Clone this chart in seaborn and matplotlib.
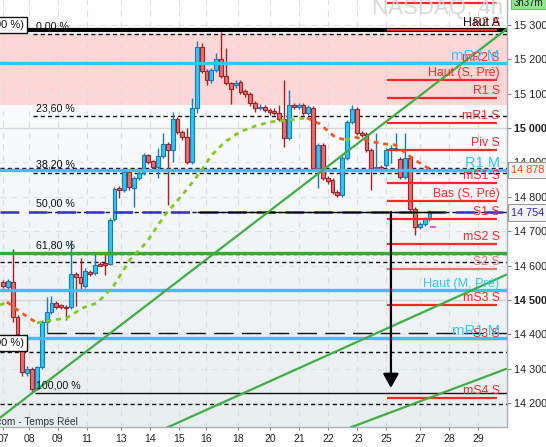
import numpy as np
import matplotlib
matplotlib.use("Agg")
import matplotlib.pyplot as plt
import seaborn as sns
from matplotlib.patches import Rectangle
import matplotlib.transforms as mtransforms

# ---------------- data ----------------
opens = [14552, 14538, 14552, 14450, 14369, 14288, 14299, 14241, 14305, 14436,
         14465, 14491, 14485, 14480, 14480, 14576, 14567, 14541, 14581, 14579,
         14605, 14608, 14605, 14736, 14826, 14820, 14872, 14826, 14855, 14870,
         14922, 14905, 14887, 14919, 14954, 14937, 15027, 14989, 14974, 14902,
         15059, 15236, 15166, 15140, 15169, 15201, 15152, 15132, 15126, 15134,
         15108, 15099, 15073, 15059, 15062, 15053, 15050, 15044, 15027, 14971,
         15067, 15062, 15067, 15044, 15059, 14884, 14951, 14855, 14849, 14814,
         14806, 14913, 15018, 15056, 14986, 14983, 14937, 14884, 14887, 14893,
         14937, 14939, 14910, 14858, 14913, 14765, 14712, 14721, 14736]
highs = [14558, 14561, 14648, 14456, 14375, 14308, 14305, 14308, 14442, 14509,
         14512, 14497, 14488, 14485, 14675, 14581, 14622, 14593, 14587, 14634,
         14611, 14637, 14739, 14829, 14832, 14878, 14878, 14861, 14875, 14928,
         14925, 14907, 14942, 14986, 14960, 15047, 15033, 14995, 15000, 15088,
         15254, 15248, 15172, 15175, 15219, 15280, 15233, 15134, 15140, 15140,
         15114, 15105, 15079, 15070, 15067, 15059, 15059, 15067, 15140, 15111,
         15073, 15073, 15073, 15067, 15065, 14957, 14957, 14861, 14855, 14820,
         14919, 15024, 15067, 15062, 14992, 14989, 14942, 14986, 14893, 14942,
         14951, 14986, 14916, 14986, 14919, 14771, 14727, 14742, 14762]
lows = [14535, 14532, 14436, 14375, 14279, 14279, 14232, 14238, 14299, 14404,
        14459, 14474, 14474, 14442, 14474, 14482, 14529, 14535, 14570, 14573,
        14599, 14573, 14602, 14730, 14797, 14814, 14820, 14771, 14849, 14864,
        14896, 14881, 14855, 14913, 14776, 14902, 14983, 14966, 14896, 14896,
        15044, 15161, 15126, 15132, 15163, 15146, 15126, 15070, 15117, 15099,
        15091, 15065, 15047, 15053, 15047, 15038, 15038, 15021, 14945, 14966,
        15056, 15056, 15038, 15038, 14878, 14826, 14849, 14838, 14808, 14800,
        14800, 14907, 15012, 14980, 14974, 14931, 14820, 14878, 14875, 14887,
        14899, 14934, 14852, 14852, 14759, 14689, 14707, 14715, 14730]
closes = [14541, 14555, 14450, 14401, 14290, 14299, 14241, 14305, 14436, 14465,
          14491, 14480, 14480, 14477, 14576, 14567, 14549, 14584, 14576, 14602,
          14599, 14602, 14733, 14823, 14820, 14872, 14829, 14855, 14870, 14922,
          14902, 14887, 14919, 14954, 14937, 15027, 14989, 14974, 14902, 15059,
          15236, 15166, 15140, 15169, 15201, 15152, 15132, 15114, 15132, 15105,
          15099, 15073, 15059, 15062, 15053, 15047, 15044, 15027, 14971, 15067,
          15062, 15067, 15044, 15062, 14884, 14951, 14855, 14846, 14814, 14806,
          14913, 15018, 15056, 14986, 14980, 14937, 14884, 14887, 14881, 14937,
          14942, 14942, 14858, 14913, 14765, 14712, 14721, 14736, 14754]

ma_x = [-0.6, 0.8, 3.5, 7.0, 10.7, 13.2, 16.5, 19.4, 22.7, 26.2, 29.7, 33.4, 37.5,
        40.6, 43.1, 45.8, 48.9, 52.0, 55.1, 59.2, 62.7, 65.4, 68.5, 70.6, 72.6,
        76.3, 78.8, 80.9, 85.0, 87.7, 88.3]
ma_y = [14485, 14494, 14465, 14433, 14442, 14448, 14477, 14491, 14538, 14617,
        14669, 14747, 14814, 14870, 14922, 14960, 14989, 15006, 15018, 15024,
        15030, 15012, 14974, 14966, 14974, 14960, 14954, 14951, 14907, 14884, 14878]

x_tick_pos = [0, 5.4, 11.3, 17.3, 24.3, 30.3, 36.3, 41.9, 48.5, 55.1, 61.1, 67.1,
              73, 79, 86, 92, 98]
x_tick_labels = ["07", "08", "09", "11", "13", "14", "15", "16", "18", "20", "21",
                 "22", "23", "25", "27", "28", "29"]
y_ticks = [15300, 15200, 15100, 15000, 14900, 14800, 14700, 14600, 14500, 14400,
           14300, 14200]
y_tick_labels = ["15 300", "15 200", "15 100", "15 000", "14 900", "14 800",
                 "14 700", "14 600", "14 500", "14 400", "14 300", "14 200"]

fib_levels = [15274, 15035, 14870, 14756, 14634]
fib_labels = ["0,00 %", "23,60 %", "38,20 %", "50,00 %", "61,80 %"]
fib_100 = 14229
fib_100_label = "100,00 %"
extra_dashed = [14884, 14611, 14349, 14197]
long_dash_level = 14404

s_levels = [15364, 15286, 15189, 15140, 15088, 15015, 14937, 14840, 14788, 14736,
            14663, 14590, 14486, 14387, 14215]
s_labels = ["", "R2 S", "mR2 S", "Haut (S, Pré)", "R1 S", "mR1 S", "Piv S",
            "mS1 S", "Bas (S, Pré)", "S1 S", "mS2 S", "S2 S", "mS3 S", "S3 S", "mS4 S"]

m_levels = [15189, 14878, 14529, 14389]
m_labels = ["mR2 M", "R1 M", "Haut (M, Pré)", "mR1 M"]
m_sizes = [10.8, 10.5, 9.2, 10.7]

haut_a = 15286
green_level = 14637
band = (15067, 15274)
mid_level = 14756
arrow_x = 80.05
arrow_end = 14244
last_price = 14754
ma_last = 14878
magenta_level = 14712

trend_lines = [((-0.62, 14157), (104.0, 15289)),
               ((33.8, 14128), (103.8, 14573)),
               ((71.6, 14128), (103.8, 14299))]

# ---------------- style ----------------
sns.set_style("white")
plt.rcParams['font.family'] = ['Liberation Sans', 'DejaVu Sans']
plt.rcParams['lines.scale_dashes'] = False

W, H = 546, 447
fig = plt.figure(figsize=(W / 100, H / 100), dpi=100)
ax = fig.add_axes([0, 20 / H, 507 / W, 427 / H])
XMIN, XMAX = -0.62, 104.0
YMIN, YMAX = 14130, 15373
PX = (YMAX - YMIN) / 427.0  # price per pixel

# background gradient
grad = np.linspace(0, 1, 256).reshape(-1, 1)
top = np.array([1.0, 1.0, 1.0])
bot = np.array([0xe9, 0xee, 0xf1]) / 255.0
img = top[None, None, :] * (1 - grad[:, :, None]) + bot[None, None, :] * grad[:, :, None]
ax.imshow(img, extent=[0, 1, 0, 1], transform=ax.transAxes, aspect='auto', zorder=0)

ax.axhspan(band[0], band[1], color='#fdd6d6', zorder=0.5, lw=0)

# gridlines
for xp in x_tick_pos:
    ax.axvline(xp, color='#d9dde0', lw=0.8, ls=(0, (4, 4)), zorder=1)
for yv in y_ticks:
    if yv in (15000, 14500):
        ax.axhline(yv, color='#d3d7da', lw=1.0, zorder=1)
    else:
        ax.axhline(yv, color='#e0e3e6', lw=0.8, ls=(0, (4, 4)), zorder=1)

# fib lines
for lv, lb in zip(fib_levels, fib_labels):
    ax.hlines(lv, 6.2, XMAX, color='#111111', lw=1.0, ls=(0, (3, 2.2)), zorder=2)
    ax.text(6.9, lv + 5 * PX, lb, fontsize=7.7, color='#111111', va='baseline', zorder=6)
ax.hlines(fib_100, 6.6, XMAX, color='#111111', lw=1.0, zorder=2)
ax.text(6.9, fib_100 + 4 * PX, fib_100_label, fontsize=7.7, color='#111111',
        va='baseline', zorder=6)
for lv in extra_dashed:
    ax.axhline(lv, color='#111111', lw=1.0, ls=(0, (3, 2.2)), zorder=2)
ax.hlines(long_dash_level, 9.0, XMAX, color='#111111', lw=1.0, ls=(0, (14, 6)), zorder=2)

# candles
xs = np.arange(len(opens))
for i in xs:
    o, h, l, c = opens[i], highs[i], lows[i], closes[i]
    up = c >= o
    fc = '#22ccf6' if up else '#e86d6d'
    ec = '#1c78b8' if up else '#a52222'
    ax.vlines(i, l, h, color=ec, lw=1.0, zorder=3)
    lo = min(o, c)
    hgt = max(abs(c - o), 2.5)
    ax.add_patch(Rectangle((i - 0.4, lo), 0.8, hgt, facecolor=fc, edgecolor=ec,
                           lw=0.8, zorder=3.5))

# horizontal strong lines
ax.axhline(haut_a, color='#000000', lw=3.0, zorder=4)
ax.axhline(mid_level, color='#3333cc', lw=1.8, ls=(0, (13.5, 7)), zorder=4)
ax.hlines(mid_level, 40.0, 91.0, color='#000000', lw=1.0, zorder=4.1)
for lv in m_levels:
    ax.axhline(lv, color='#30c6f6', lw=2.4, zorder=4.2)
ax.axhline(green_level, color='#3aaa35', lw=2.4, zorder=4.2)

# red S lines
for lv, lb in zip(s_levels, s_labels):
    col = '#f07070' if lb == "S2 S" else '#ff2626'
    ax.hlines(lv, 79.2, 101.9, color=col, lw=1.6, zorder=4.1)

# moving average, coloured by direction
segs = []
cur = None
for k in range(len(ma_x) - 1):
    col = '#80cc20' if ma_y[k + 1] >= ma_y[k] else '#ff5522'
    if cur is None or cur[0] != col:
        cur = [col, [ma_x[k]], [ma_y[k]]]
        segs.append(cur)
    cur[1].append(ma_x[k + 1])
    cur[2].append(ma_y[k + 1])
for col, sx, sy in segs:
    ax.plot(sx, sy, color=col, lw=2.0, ls=(0, (3.5, 3.5)), zorder=5)

# trend lines
for (x0, y0), (x1, y1) in trend_lines:
    sns.lineplot(x=[x0, x1], y=[y0, y1], ax=ax, color='#3cb043', lw=1.6,
                 sort=False, zorder=5, legend=False)

# arrow
ax.annotate('', xy=(arrow_x, arrow_end), xytext=(arrow_x, mid_level),
            arrowprops=dict(arrowstyle='-|>,head_length=0.5,head_width=0.28',
                            color='black', lw=1.6, mutation_scale=17,
                            shrinkA=0, shrinkB=0), zorder=6)
ax.hlines(magenta_level, 88.2, 89.4, color='#ff33cc', lw=1.2, zorder=6)

# labels right side
LX = 102.5
ax.text(LX, haut_a + 4 * PX, "Haut A", fontsize=8.8, color='#111111', ha='right',
        va='baseline', zorder=7)
for lv, lb in zip(s_levels, s_labels):
    if not lb:
        continue
    col = '#f07070' if lb == "S2 S" else '#ff2626'
    off = 2 if lb in ("mR2 S", "S3 S") else 4
    ax.text(LX, lv + off * PX, lb, fontsize=8.8, color=col, ha='right',
            va='baseline', zorder=6.5)
for lv, lb, fs in zip(m_levels, m_labels, m_sizes):
    ax.text(LX, lv + 3 * PX, lb, fontsize=fs, color='#30c6f6', ha='right',
            va='baseline', zorder=6.8)

ax.set_xlim(XMIN, XMAX)
ax.set_ylim(YMIN, YMAX)

# axes
ax.yaxis.tick_right()
ax.set_yticks(y_ticks)
ax.set_yticklabels(y_tick_labels)
ax.set_xticks(x_tick_pos)
ax.set_xticklabels(x_tick_labels)
ax.tick_params(axis='y', length=3, pad=2, labelsize=7.8, colors='#222222',
               color='#888888', right=True, left=False)
ax.tick_params(axis='x', length=2, pad=3, labelsize=7.5, colors='#222222',
               color='#888888', bottom=True)
for t in ax.get_yticklabels():
    if t.get_text() in ("15 000", "14 500"):
        t.set_fontweight('bold')
for s in ('top', 'left'):
    ax.spines[s].set_visible(False)
for s in ('bottom', 'right'):
    ax.spines[s].set_color('#a8b0b6')
    ax.spines[s].set_linewidth(1.0)

# price boxes
trans = mtransforms.blended_transform_factory(ax.transAxes, ax.transData)
ax.text(1.008, ma_last, "14 878", transform=trans, fontsize=7.8, color='#ff4400',
        va='center', ha='left', clip_on=False, zorder=8,
        bbox=dict(boxstyle='square,pad=0.3', fc='#f4f4f4', ec='#999999', lw=0.8))
ax.text(1.008, last_price, "14 754", transform=trans, fontsize=7.8, color='#2b2bc8',
        va='center', ha='left', clip_on=False, zorder=8,
        bbox=dict(boxstyle='square,pad=0.3', fc='#f4f4f4', ec='#999999', lw=0.8))

# left cut boxes
for yv in (15300 - (25 - 25) * PX * 0 + 0, ):
    pass
ax.text(24 / 507, 1 - 25 / 427, "(100 %)", transform=ax.transAxes, fontsize=8,
        ha='right', va='center', color='#111111', zorder=8,
        bbox=dict(boxstyle='square,pad=0.25', fc='white', ec='#111111', lw=1.0))
ax.text(24 / 507, 1 - 343 / 427, "(100 %)", transform=ax.transAxes, fontsize=8,
        ha='right', va='center', color='#111111', zorder=8,
        bbox=dict(boxstyle='square,pad=0.25', fc='white', ec='#111111', lw=1.0))

# footer / watermark
ax.text(78 / 507, 1 - 425 / 427, "ProRealTime.com - Temps Réel", transform=ax.transAxes,
        fontsize=7.3, ha='right', va='baseline', color='#333333', zorder=8)
fig.text(503 / W, 1 - 14 / H, "NASDAQ, 4h", fontsize=16, color='#d8d8d8',
         ha='right', va='baseline', zorder=0.2)
fig.patches.append(Rectangle((511 / W, 1 - 9 / H), 40 / W, 12 / H, transform=fig.transFigure,
                             facecolor='#8fe58f', edgecolor='#6cbf6c', lw=0.8))
fig.text(514 / W, 1 - 6 / H, "3h37m", fontsize=7, color='#222222', ha='left',
         va='baseline')

fig.savefig("out.png", dpi=100)
